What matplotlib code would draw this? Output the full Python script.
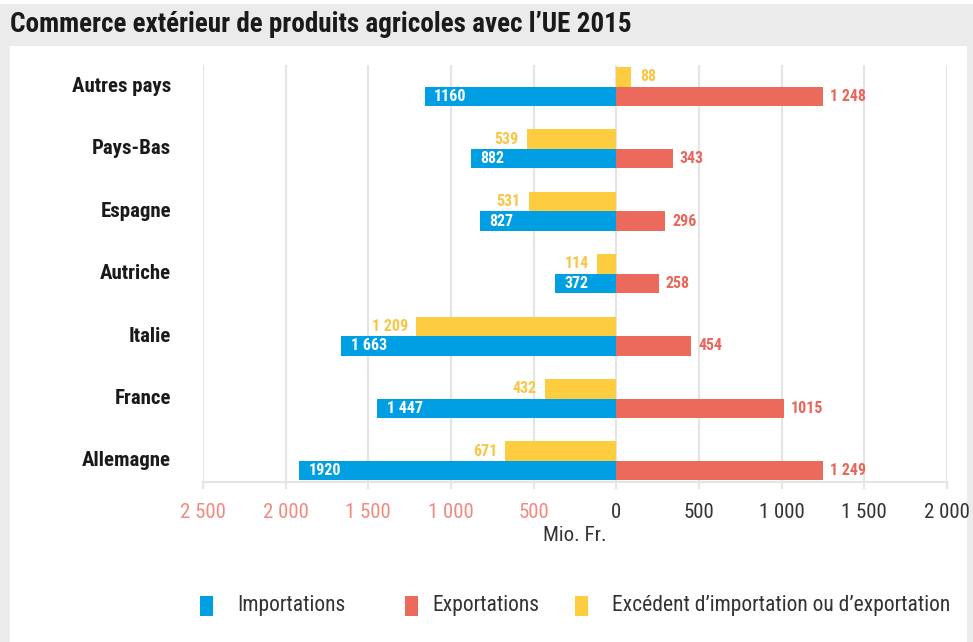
import matplotlib
matplotlib.use("Agg")
import matplotlib.pyplot as plt
from matplotlib import font_manager
from matplotlib.patches import Rectangle

# ---------------- data ----------------
categories = ["Allemagne", "France", "Italie", "Autriche", "Espagne", "Pays-Bas", "Autres pays"]
imports = [1920, 1447, 1663, 372, 827, 882, 1160]
exports = [1249, 1015, 454, 258, 296, 343, 1248]
balance = [-671, -432, -1209, -114, -531, -539, 88]
import_labels = ["1920", "1 447", "1 663", "372", "827", "882", "1160"]
export_labels = ["1 249", "1015", "454", "258", "296", "343", "1 248"]
balance_labels = ["671", "432", "1 209", "114", "531", "539", "88"]
xticks = [-2500, -2000, -1500, -1000, -500, 0, 500, 1000, 1500, 2000]
xtick_labels = ["2 500", "2 000", "1 500", "1 000", "500", "0", "500", "1 000", "1 500", "2 000"]
title = "Commerce extérieur de produits agricoles avec l’UE 2015"
xlabel = "Mio. Fr."
legend_names = ["Importations", "Exportations", "Excédent d’importation ou d’exportation"]

# ---------------- style ----------------
BLUE = "#009fe3"
RED = "#ec6a5c"
YELLOW = "#fecc3f"
YELLOW_TXT = "#f9c644"
RED_TXT = "#e9665a"
SALMON = "#f08b80"
GRID = "#e4e4e4"
BG = "#ebebeb"

avail = {f.name for f in font_manager.fontManager.ttflist}
FONT = None
for cand in ["Liberation Sans Narrow", "Roboto Condensed", "Open Sans Condensed", "DejaVu Sans"]:
    if cand in avail:
        FONT = cand
        break
plt.rcParams["font.family"] = [FONT, "DejaVu Sans"]

W, H = 973, 642
fig = plt.figure(figsize=(W / 100, H / 100), dpi=100)
fig.patch.set_facecolor(BG)

def fx(px):
    return px / W

def fy(py):
    return 1 - py / H

# white panel
fig.patches.append(Rectangle((fx(10), 0), fx(967) - fx(10), fy(46), transform=fig.transFigure,
                             facecolor="white", edgecolor="none", zorder=-10))
# top white strip
fig.patches.append(Rectangle((0, fy(4)), 1, 1 - fy(4), transform=fig.transFigure,
                             facecolor="white", edgecolor="none", zorder=-10))

fig.text(fx(10), fy(25), title, fontsize=19.5, fontweight="bold", color="#1a1a1a",
         ha="left", va="center")

# axes
ax_left, ax_right, ax_top, ax_bot = 203, 947, 65, 482
ax = fig.add_axes([fx(ax_left), fy(ax_bot), fx(ax_right) - fx(ax_left), fy(ax_top) - fy(ax_bot)])
ax.set_facecolor("none")
ax.set_xlim(-2500, 2000)
ax.set_ylim(-0.337, 6.345)

h = 0.3125
ys = list(range(len(categories)))
neg_imports = [-v for v in imports]
ax.barh([y - h / 2 for y in ys], neg_imports, height=h, color=BLUE, zorder=3)
ax.barh([y - h / 2 for y in ys], exports, height=h, color=RED, zorder=3)
ax.barh([y + h / 2 for y in ys], balance, height=h, color=YELLOW, zorder=3)

LFS = 11.5
for y, v, lab in zip(ys, neg_imports, import_labels):
    ax.annotate(lab, (v, y - h / 2), xytext=(7, 0), textcoords="offset points",
                ha="left", va="center", color="white", fontsize=LFS, fontweight="bold", zorder=4)
for y, v, lab in zip(ys, exports, export_labels):
    ax.annotate(lab, (v, y - h / 2), xytext=(5, 0), textcoords="offset points",
                ha="left", va="center", color=RED_TXT, fontsize=LFS, fontweight="bold", zorder=4)
for y, v, lab in zip(ys, balance, balance_labels):
    if v < 0:
        ax.annotate(lab, (v, y + h / 2), xytext=(-6, 0), textcoords="offset points",
                    ha="right", va="center", color=YELLOW_TXT, fontsize=LFS, fontweight="bold", zorder=4)
    else:
        ax.annotate(lab, (v, y + h / 2), xytext=(7, 0), textcoords="offset points",
                    ha="left", va="center", color=YELLOW_TXT, fontsize=LFS, fontweight="bold", zorder=4)

# grid & spines
for s in ["top", "right", "left"]:
    ax.spines[s].set_visible(False)
ax.spines["bottom"].set_color(GRID)
ax.spines["bottom"].set_linewidth(1.5)
ax.set_xticks(xticks)
ax.set_xticklabels(xtick_labels)
ax.xaxis.grid(True, color=GRID, linewidth=1.5, zorder=0)
ax.set_axisbelow(True)
ax.tick_params(axis="x", length=5, width=1.5, color=GRID, pad=10, labelsize=15)
for t, v in zip(ax.get_xticklabels(), xticks):
    t.set_color(SALMON if v < 0 else "#333333")
ax.set_yticks(ys)
ax.set_yticklabels(categories, fontsize=15, fontweight="bold", color="#1a1a1a")
for t in ax.get_yticklabels():
    t.set_va("center")
ax.tick_params(axis="y", length=0, pad=23)
ax.set_xlabel(xlabel, fontsize=15, color="#333333", labelpad=3)

# legend (manual)
leg_items = [(200, BLUE, legend_names[0], 237), (405, RED, legend_names[1], 432),
             (575, YELLOW, legend_names[2], 612)]
for x0, col, name, tx in leg_items:
    fig.patches.append(Rectangle((fx(x0), fy(616)), fx(13), fy(596) - fy(616), transform=fig.transFigure,
                                 facecolor=col, edgecolor="none"))
    fig.text(fx(tx), fy(605), name, fontsize=15.5, color="#333333", ha="left", va="center")

fig.savefig("out.png", dpi=100, facecolor=fig.get_facecolor())
